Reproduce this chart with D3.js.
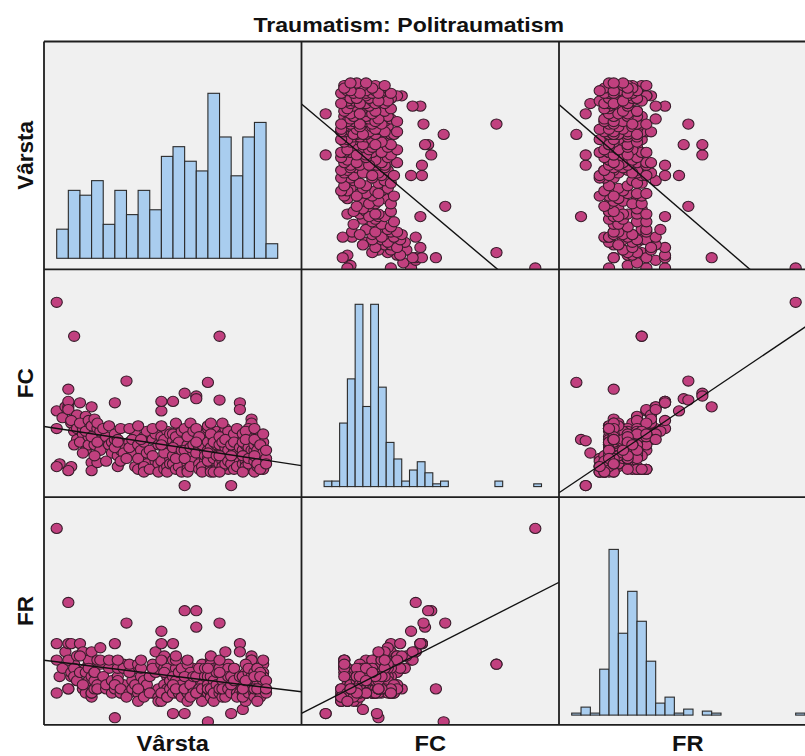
<!DOCTYPE html>
<html><head><meta charset="utf-8">
<script src="https://cdn.jsdelivr.net/npm/d3@7"></script>
<style>body{margin:0;background:#fff}svg{display:block}</style>
</head><body><svg id="c" width="805" height="756"></svg>
<script>
const title = "Traumatism: Politraumatism";
const variables = ["Vârsta", "FC", "FR"];

// Scatter data: one entry per case (age, heart rate, respiratory rate), same order in each array
const ageValues = [
 17,17,18,17,19,20,17,
 21,21,23,21,21,22,21,22,23,24,24,22,23,24,
 25,27,26,28,25,27,26,28,25,27,28,26,28,
 29,29,29,31,30,32,29,30,31,32,29,30,31,32,30,31,
 34,35,33,36,34,35,36,
 37,37,38,39,40,37,38,39,40,38,37,40,39,38,
 41,42,43,44,41,42,43,44,42,
 45,46,47,48,45,46,47,48,45,46,47,48,45,47,
 49,50,51,52,49,50,51,52,50,52,
 53,53,54,55,56,53,54,55,56,53,54,55,56,53,54,55,56,54,55,56,53,
 57,57,58,59,60,57,58,59,60,57,58,59,60,57,58,59,60,58,59,60,57,58,60,
 61,61,62,63,64,61,62,63,64,61,62,63,64,61,62,63,64,62,63,64,
 65,65,66,67,68,65,66,67,68,65,66,67,68,66,67,68,65,67,
 69,70,71,72,69,70,71,72,69,70,71,72,69,70,71,72,69,70,71,72,69,70,71,72,69,70,71,72,70,71,69,72,70,71,
 73,73,74,75,76,73,74,75,76,73,74,75,76,73,74,75,76,73,74,75,76,74,73,75,76,
 77,78,79,80,77,78,79,80,80,77,78,79,80,77,78,79,80,
 81,81,82,83,84,84,81,82,83,84,81,82,83,84,81,82,83,84,81,82,83,84,81,82,83,
 85,86,87,88,85,86,87,88,85,86,87,88,85,86,87,88,85,86,87,88,85,86,87,88,85,86,87,88,
 89,89,89
];
const fcValues = [
 181,101,62,60,96,104,88,
 104,117,156,108,102,60,57,92,86,98,80,94,76,88,
 107,97,84,90,78,72,88,82,92,86,76,70,94,
 104,63,57,63,84,80,90,76,88,72,82,95,78,86,68,92,
 82,76,88,70,64,90,78,
 107,80,68,72,76,84,60,88,66,80,74,70,64,78,
 123,78,70,84,66,74,80,60,88,
 76,68,82,62,58,72,78,86,66,80,60,70,90,56,
 72,80,64,76,58,68,84,62,88,56,
 101,108,76,68,72,82,62,86,78,64,58,74,66,90,80,60,84,70,56,62,76,
 108,79,72,66,80,62,76,88,70,84,58,74,64,68,82,60,86,92,78,56,74,66,72,
 114,46,76,68,80,72,62,84,70,88,58,74,64,66,82,92,76,56,60,86,
 112,110,74,66,80,70,62,84,72,88,58,76,64,82,60,68,78,56,
 122,76,68,80,72,62,84,70,88,58,74,64,66,82,60,86,78,56,72,62,90,68,80,58,64,74,66,76,84,56,70,68,92,78,
 156,109,72,66,80,62,84,70,58,76,64,88,68,82,60,74,86,56,78,62,72,92,68,80,64,
 46,72,66,80,62,84,70,107,102,76,58,88,64,68,78,60,74,
 70,72,66,80,95,92,62,76,70,58,84,64,88,68,78,60,74,82,56,86,62,72,68,80,66,
 72,66,80,62,76,84,70,58,64,78,60,74,88,68,82,66,56,72,64,78,80,60,76,70,68,62,58,84,
 66,72,62
];
const frValues = [
 56,24,20,16,22,26,28,
 38,17,23,28,24,20,17,21,22,25,19,28,20,19,
 28,22,17,23,21,16,26,24,25,21,19,18,22,
 26,20,15,17,21,23,16,19,24,24,16,17,18,27,21,17,
 17,22,20,16,18,24,19,
 28,10,20,16,23,17,22,16,18,19,18,22,17,24,
 33,16,19,22,15,21,17,18,23,
 16,20,17,16,23,22,19,16,14,24,17,18,17,15,
 20,16,21,17,16,23,26,15,22,14,
 31,28,16,20,17,23,18,17,19,14,22,22,16,16,25,15,19,21,15,17,24,
 28,11,16,20,17,16,22,16,19,24,24,21,18,20,19,21,18,25,16,15,18,17,22,
 36,11,16,20,22,17,16,19,18,17,23,21,17,20,24,18,16,14,15,20,
 36,32,17,16,21,20,16,23,19,16,22,18,20,17,14,22,16,17,
 9,19,20,17,16,18,22,18,16,24,21,16,20,23,16,19,17,16,22,15,18,15,20,21,17,20,19,21,17,14,22,18,25,16,
 23,33,16,20,17,16,21,19,23,22,17,16,16,24,15,20,22,17,19,15,20,17,21,26,17,
 11,16,20,17,16,22,19,28,26,20,22,16,16,18,19,15,20,
 12,16,20,17,25,24,16,21,19,24,20,17,17,16,20,14,21,17,15,23,16,20,17,19,22,
 16,20,17,16,21,22,19,23,17,20,16,21,16,18,20,17,15,22,15,20,17,14,21,19,20,17,20,24,
 16,19,17
];

// Histogram bins
const ageBinStart = 17, ageBinWidth = 4;
const ageCounts = [6,14,13,16,7,14,9,14,10,21,23,20,18,34,25,17,25,28,3];
const fcBinStart = 45, fcBinWidth = 5;
const fcCounts = [2,2,23,39,66,29,66,36,16,10,2,6,9,5,1,2,0,0,0,0,0,0,2,0,0,0,0,1];
const frBinStart = 8, frBinWidth = 2;
const frCounts = [1,4,1,23,83,41,62,47,27,6,9,1,3,0,2,1,0,0,0,0,0,0,0,0,1];

// Linear fit lines: [y variable, x variable, intercept, slope]
const fitLines = [
 ["Vârsta", "FC", 96.37, -0.5097],
 ["Vârsta", "FR", 88.9, -1.568],
 ["FC", "Vârsta", 93.64, -0.3253],
 ["FC", "FR", 28.5, 2.314],
 ["FR", "Vârsta", 25.07, -0.0868],
 ["FR", "FC", 5.19, 0.1922]
];

// ---------------- drawing ----------------
const svg = d3.select("#c");
const L = 44, T = 41.5, PW = 257.5, PH = 227.8;
const FONT = "'Liberation Sans', Arial, Helvetica, sans-serif";

const values = {"Vârsta": ageValues, "FC": fcValues, "FR": frValues};
const xScales = {
  "Vârsta": d3.scaleLinear().domain([17, 93]).range([12.7, 233.7]),
  "FC": d3.scaleLinear().domain([45, 185]).range([22.6, 240]),
  "FR": d3.scaleLinear().domain([8, 58]).range([12.7, 246])
};
const yScales = {
  "Vârsta": d3.scaleLinear().domain([17, 89]).range([226.5, 41.5]),
  "FC": d3.scaleLinear().domain([46, 181]).range([216.3, 33]),
  "FR": d3.scaleLinear().domain([9, 56]).range([224.7, 31.3])
};
const hists = {
  "Vârsta": {start: ageBinStart, width: ageBinWidth, counts: ageCounts,
             y: d3.scaleLinear().domain([0, 34]).range([216.8, 51.8])},
  "FC": {start: fcBinStart, width: fcBinWidth, counts: fcCounts,
         y: d3.scaleLinear().domain([0, 66]).range([217.3, 35])},
  "FR": {start: frBinStart, width: frBinWidth, counts: frCounts,
         y: d3.scaleLinear().domain([0, 83]).range([218, 52.3])}
};

const defs = svg.append("defs");
const rows = d3.range(values["Vârsta"].length);

variables.forEach((rv, i) => {
  variables.forEach((cv, j) => {
    const id = `clip-${i}-${j}`;
    defs.append("clipPath").attr("id", id)
      .append("rect").attr("x", 0).attr("y", 0).attr("width", PW).attr("height", PH);
    const g = svg.append("g")
      .attr("transform", `translate(${L + j * PW},${T + i * PH})`);
    const inner = g.append("g").attr("clip-path", `url(#${id})`);
    inner.append("rect").attr("width", PW).attr("height", PH).attr("fill", "#f0f0f0");
    const xs = xScales[cv];
    if (i === j) {
      const h = hists[rv];
      const bins = h.counts.map((c, k) => ({k, c})).filter(d => d.c > 0);
      inner.selectAll("rect.bar").data(bins).join("rect")
        .attr("class", "bar")
        .attr("x", d => xs(h.start + d.k * h.width))
        .attr("width", d => xs(h.start + (d.k + 1) * h.width) - xs(h.start + d.k * h.width))
        .attr("y", d => h.y(d.c))
        .attr("height", d => h.y(0) - h.y(d.c))
        .attr("fill", "#a9cdef")
        .attr("stroke", "#2a2a2a")
        .attr("stroke-width", 1.1);
    } else {
      const ys = yScales[rv];
      const xv = values[cv], yv = values[rv];
      inner.selectAll("ellipse").data(rows).join("ellipse")
        .attr("cx", d => xs(xv[d]))
        .attr("cy", d => ys(yv[d]))
        .attr("rx", 5.6).attr("ry", 5.1)
        .attr("fill", "#c1407f")
        .attr("stroke", "#3a1d2c")
        .attr("stroke-width", 1.1);
      const f = fitLines.find(l => l[0] === rv && l[1] === cv);
      const x0 = xs.invert(0), x1 = xs.invert(PW);
      inner.append("line")
        .attr("x1", 0).attr("y1", ys(f[2] + f[3] * x0))
        .attr("x2", PW).attr("y2", ys(f[2] + f[3] * x1))
        .attr("stroke", "#111").attr("stroke-width", 1.4);
    }
  });
});

// panel grid lines
const grid = svg.append("g").attr("stroke", "#1e1e1e").attr("stroke-width", 1.8).attr("fill", "none");
d3.range(4).forEach(k => {
  grid.append("line").attr("x1", L + k * PW).attr("x2", L + k * PW)
    .attr("y1", T).attr("y2", T + 3 * PH);
  grid.append("line").attr("y1", T + k * PH).attr("y2", T + k * PH)
    .attr("x1", L).attr("x2", L + 3 * PW);
});

// texts
function stretch(sel, f) {
  const len = sel.node().getComputedTextLength();
  sel.attr("textLength", len * f).attr("lengthAdjust", "spacingAndGlyphs");
}
const t = svg.append("text").attr("x", 408.8).attr("y", 32)
  .attr("text-anchor", "middle").attr("font-family", FONT)
  .attr("font-weight", "bold").attr("font-size", 21).attr("fill", "#111")
  .text(title);
stretch(t, 1.1);

variables.forEach((v, k) => {
  const bl = svg.append("text")
    .attr("x", L + k * PW + PW / 2).attr("y", 750.5)
    .attr("text-anchor", "middle").attr("font-family", FONT)
    .attr("font-weight", "bold").attr("font-size", 21.5).attr("fill", "#111")
    .text(v);
  stretch(bl, 1.1);
  svg.append("text")
    .attr("transform", `translate(32.5,${T + k * PH + PH / 2}) rotate(-90)`)
    .attr("text-anchor", "middle").attr("font-family", FONT)
    .attr("font-weight", "bold").attr("font-size", 22.5).attr("fill", "#111")
    .text(v);
});
</script></body></html>
